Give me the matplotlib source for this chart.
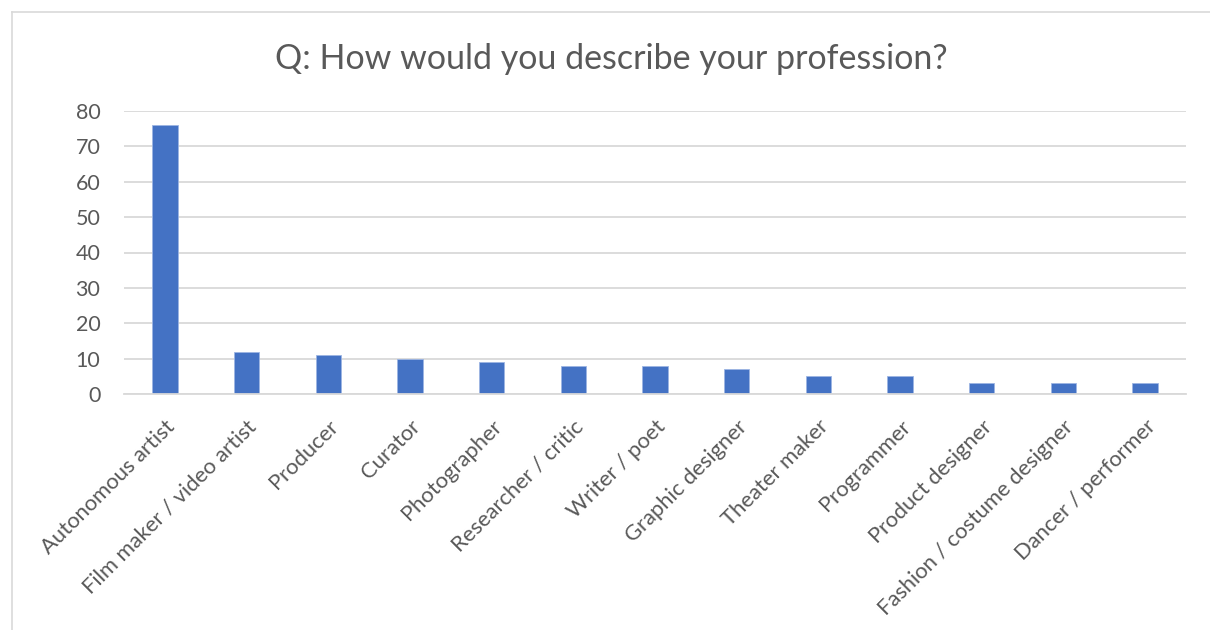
import matplotlib
matplotlib.use("Agg")
import matplotlib.pyplot as plt
from matplotlib.lines import Line2D

categories = ["Autonomous artist", "Film maker / video artist", "Producer", "Curator",
              "Photographer", "Researcher / critic", "Writer / poet", "Graphic designer",
              "Theater maker", "Programmer", "Product designer",
              "Fashion / costume designer", "Dancer / performer"]
values = [76, 12, 11, 10, 9, 8, 8, 7, 5, 5, 3, 3, 3]
yticks = [0, 10, 20, 30, 40, 50, 60, 70, 80]

plt.rcParams['font.family'] = ['Lato', 'DejaVu Sans']
txt = '#595959'

fig = plt.figure(figsize=(12.1, 6.3), dpi=100)
W, H = 1210, 630
ax = fig.add_axes([124 / W, 1 - 394 / H, (1186 - 124) / W, (394 - 111) / H])

x = list(range(len(categories)))
ax.bar(x, values, width=0.31, color='#4472C4', edgecolor='#9DB5E3', linewidth=0.6, zorder=3)
ax.set_xlim(-0.5, len(categories) - 0.5)
ax.set_ylim(0, 80)
ax.set_yticks(yticks)
ax.set_yticklabels([str(v) for v in yticks], fontsize=15.5, color=txt)
ax.yaxis.grid(True, color='#D9D9D9', linewidth=1.3, zorder=0)
ax.set_xticks(x)
ax.set_xticklabels(categories, rotation=45, ha='right', rotation_mode='anchor',
                   fontsize=15.8, color=txt)
ax.tick_params(axis='y', length=0, pad=17)
ax.tick_params(axis='x', length=0, pad=16)
for s in ['top', 'right', 'left']:
    ax.spines[s].set_visible(False)
ax.spines['bottom'].set_color('#D9D9D9')
ax.spines['bottom'].set_linewidth(1.3)
ax.spines['bottom'].set_zorder(4)

fig.text(611 / W, 1 - 59 / H, "Q: How would you describe your profession?",
         ha='center', va='center', fontsize=24.5, color=txt)

# chart border (partially visible)
fig.add_artist(Line2D([12 / W, 12 / W], [0, 1 - 12 / H], color='#D9D9D9', linewidth=1.2,
                      transform=fig.transFigure))
fig.add_artist(Line2D([12 / W, 1], [1 - 12 / H, 1 - 12 / H], color='#D9D9D9', linewidth=1.2,
                      transform=fig.transFigure))

fig.savefig('out.png', dpi=100, facecolor='white')
